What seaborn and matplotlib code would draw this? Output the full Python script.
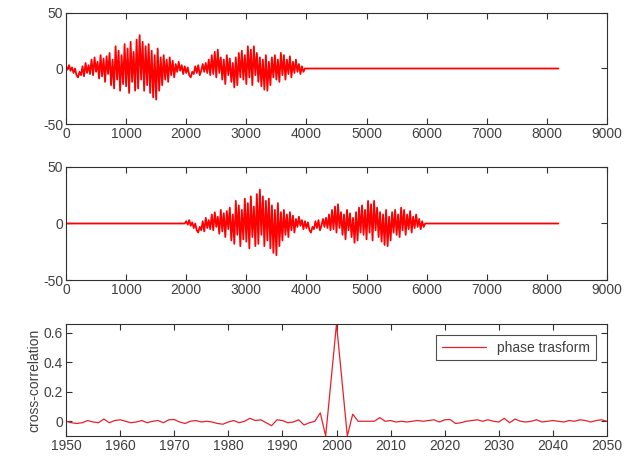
import numpy as np
import pandas as pd
import seaborn as sns
import matplotlib.pyplot as plt

# signal values, one every 25 samples from 0 to 3975
step = 25
signal = [2, -1, 3, -2, 1, -4, 0, -6,
          -8, -3, -6, 2, -7, 5, -4, 3,
          -5, 8, -6, 10, -3, 6, -9, 12,
          -7, 9, -12, 11, -5, 14, -15, 8,
          -18, 20, -10, 16, -20, 12, -14, 22,
          -16, 18, -22, 24, -12, 15, -20, 26,
          -18, 30, -10, 24, -20, 20, -15, 22,
          -22, 16, -26, 12, -28, 18, -20, 10,
          -15, 12, -10, 8, -12, 10, -6, 7,
          -8, 4, -3, 6, -2, 3, -5, 2,
          -4, 1, -6, -8, -3, -5, 2, -4,
          3, -6, -2, 4, -3, 5, -4, 8,
          -6, 12, -5, 15, -8, 17, -4, 10,
          -10, 8, -14, 12, -6, 9, -12, 5,
          -17, 10, -15, 14, -8, 16, -10, 12,
          -14, 20, -8, 17, -15, 20, -6, 14,
          -12, 10, -16, 8, -19, 12, -20, 6,
          -15, 10, -8, 12, -10, 8, -12, 14,
          -6, 12, -10, 8, -5, 11, -8, 6,
          -4, 8, -3, 4, -5, 2, -3, 0]
n_total = 8192
delay = 2000

# cross-correlation, lags 1950..2050
lags = list(range(1950, 2051))
xcorr = [0.0, -0.01, -0.015, -0.01, 0.005, -0.005, -0.01, 0.015, -0.01, 0.005,
         0.01, 0.0, -0.01, -0.005, 0.005, -0.01, 0.0, 0.005, -0.01, 0.01,
         0.012, -0.005, -0.015, 0.0, 0.005, -0.005, 0.0, -0.005, -0.015, -0.02,
         -0.005, 0.005, -0.01, 0.0, 0.02, 0.005, 0.01, -0.01, -0.03, 0.01,
         0.005, -0.01, -0.005, 0.01, -0.025, -0.01, 0.0, 0.057, -0.1, 0.28,
         0.66, 0.28, -0.1, 0.048, 0.0, 0.0, 0.0, 0.0, 0.025, 0.0,
         0.005, -0.005, 0.0, -0.005, 0.0, 0.005, 0.0, 0.005, 0.01, -0.005,
         0.01, 0.012, -0.015, -0.01, 0.0, 0.005, 0.01, 0.0, 0.01, 0.0,
         -0.005, 0.02, -0.01, 0.015, 0.0, -0.005, 0.0, 0.01, -0.005, 0.0,
         0.005, 0.0, -0.005, 0.005, 0.0, 0.01, 0.005, -0.005, 0.005, 0.01,
         0.0]

sns.set_style("ticks")
plt.rcParams['font.family'] = ['Liberation Sans', 'DejaVu Sans']
plt.rcParams['font.size'] = 10
plt.rcParams['axes.unicode_minus'] = False
plt.rcParams['text.color'] = '#404040'
plt.rcParams['xtick.color'] = '#303030'
plt.rcParams['ytick.color'] = '#303030'
plt.rcParams['xtick.labelcolor'] = '#404040'
plt.rcParams['ytick.labelcolor'] = '#404040'

sig_x = np.arange(len(signal)) * step
end_x = sig_x[-1] + step

top = pd.DataFrame({'x': np.concatenate([sig_x, [end_x, n_total - 1]]),
                    'y': signal + [0, 0]})
mid = pd.DataFrame({'x': np.concatenate([[0, delay - step], sig_x + delay,
                                         [end_x + delay, n_total - 1]]),
                    'y': [0, 0] + signal + [0, 0]})
bot = pd.DataFrame({'lag': lags, 'xc': xcorr})

fig = plt.figure(figsize=(6.34, 4.61), dpi=100)
ax1 = fig.add_axes([66 / 634, 1 - 124 / 461, 541 / 634, 111 / 461])
ax2 = fig.add_axes([66 / 634, 1 - 280 / 461, 541 / 634, 113 / 461])
ax3 = fig.add_axes([66 / 634, 1 - 436 / 461, 541 / 634, 112 / 461])

sns.lineplot(data=top, x='x', y='y', ax=ax1, color='red', lw=1.3,
             estimator=None, sort=False)
sns.lineplot(data=mid, x='x', y='y', ax=ax2, color='red', lw=1.3,
             estimator=None, sort=False)
sns.lineplot(data=bot, x='lag', y='xc', ax=ax3, color='#e8202a', lw=0.9,
             estimator=None, sort=False, label='phase trasform')

for ax in (ax1, ax2):
    ax.set_xlim(0, 9000)
    ax.set_ylim(-50, 50)
    ax.set_xticks(range(0, 9001, 1000))
    ax.set_yticks([-50, 0, 50])

ax3.set_xlim(1950, 2050)
ax3.set_ylim(-0.1, 0.66)
ax3.set_xticks(range(1950, 2051, 10))
ax3.set_yticks([0, 0.2, 0.4, 0.6])
ax3.set_yticklabels(['0', '0.2', '0.4', '0.6'])
ax3.set_ylabel('cross-correlation', color='#404040', labelpad=2)

for ax in (ax1, ax2, ax3):
    ax.set_xlabel('')
    if ax is not ax3:
        ax.set_ylabel('')
    for s in ax.spines.values():
        s.set_visible(True)
        s.set_color('#303030')
        s.set_linewidth(0.8)
    ax.tick_params(direction='in', top=True, right=True, length=4,
                   width=0.8, labelsize=10, pad=2)

leg = ax3.legend(loc='upper right', fancybox=False, frameon=True,
                 edgecolor='#202020', fontsize=10, handlelength=3.2,
                 borderaxespad=0.8)
leg.get_frame().set_linewidth(0.8)

fig.savefig('out.png', dpi=100)
